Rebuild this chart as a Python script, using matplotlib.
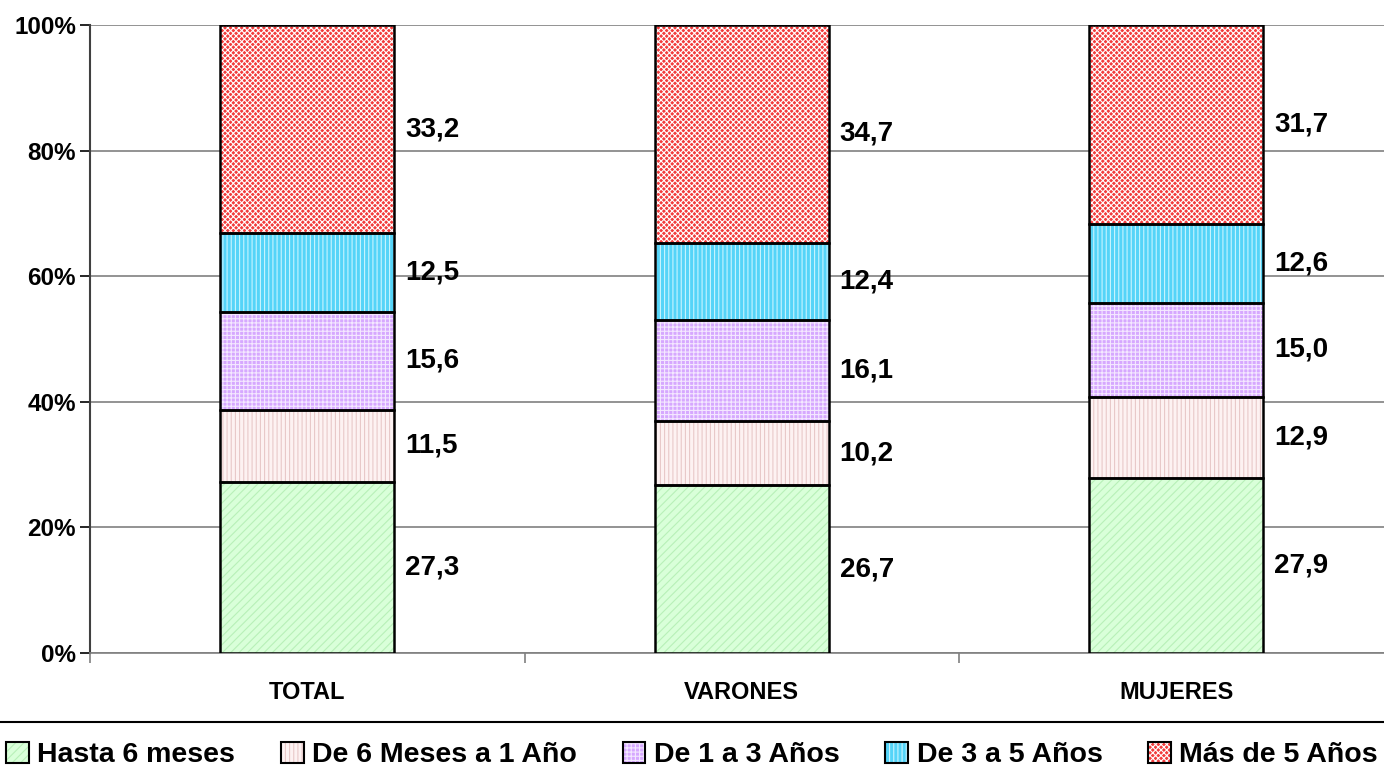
import matplotlib.pyplot as plt
from matplotlib.patches import Patch
from matplotlib.lines import Line2D

plt.rcParams['font.family'] = ['Liberation Sans', 'DejaVu Sans']
plt.rcParams['hatch.linewidth'] = 0.8

categories = ['TOTAL', 'VARONES', 'MUJERES']
series = ['Hasta 6 meses', 'De 6 Meses a 1 Año', 'De 1 a 3 Años',
          'De 3 a 5 Años', 'Más de 5 Años']
values = [
    [27.3, 26.7, 27.9],
    [11.5, 10.2, 12.9],
    [15.6, 16.1, 15.0],
    [12.5, 12.4, 12.6],
    [33.2, 34.7, 31.7],
]
labels = [
    ['27,3', '26,7', '27,9'],
    ['11,5', '10,2', '12,9'],
    ['15,6', '16,1', '15,0'],
    ['12,5', '12,4', '12,6'],
    ['33,2', '34,7', '31,7'],
]
yticks = [0, 20, 40, 60, 80, 100]
ytick_labels = ['0%', '20%', '40%', '60%', '80%', '100%']

faces = ['#d9ffd9', '#fdf2f2', '#d6a8ff', '#55d4f8', '#f23c3c']
hatch_cols = ['#b8f0b8', '#e8c8c8', '#f4e8ff', '#c8f4ff', '#ffffff']
hatches = ['////', '||||', '++++', '||||', 'xxxxxx']

fig = plt.figure(figsize=(13.84, 7.84), dpi=100)
W, H = 1384, 784
ax = fig.add_axes([90 / W, 1 - 653 / H, (W - 90) / W, (653 - 25) / H])

# normalise to 100% as the original does
totals = [sum(v[i] for v in values) for i in range(len(categories))]
x = list(range(len(categories)))
width = 0.4
bottoms = [0.0] * len(categories)
handles = []
for s, vals in enumerate(values):
    pct = [vals[i] / totals[i] * 100 for i in x]
    ax.bar(x, pct, width, bottom=bottoms, color=faces[s],
           edgecolor=hatch_cols[s], hatch=hatches[s], linewidth=0, zorder=3)
    ax.bar(x, pct, width, bottom=bottoms, fill=False,
           edgecolor='black', linewidth=1.8, zorder=4)
    for i in x:
        ax.text(i + width / 2 + 0.025, bottoms[i] + pct[i] / 2, labels[s][i],
                ha='left', va='center', fontsize=20, fontweight='bold', zorder=5)
    handles.append((Patch(facecolor=faces[s], edgecolor=hatch_cols[s],
                          hatch=hatches[s], linewidth=0),
                    Patch(facecolor='none', edgecolor='black', linewidth=1.5)))
    bottoms = [bottoms[i] + pct[i] for i in x]

ax.set_ylim(0, 100)
ax.set_xlim(-0.5, -0.5 + (W - 90) / 434.5)
ax.set_yticks(yticks)
ax.set_yticklabels(ytick_labels, fontsize=17.5, fontweight='bold')
ax.yaxis.grid(True, color='#808080', linewidth=1.2, zorder=0)
ax.set_axisbelow(True)

ax.set_xticks(x)
ax.set_xticklabels(categories, fontsize=17, fontweight='bold')
ax.tick_params(axis='x', length=0, pad=20)
ax.set_xticks([-0.5, 0.5, 1.5], minor=True)
ax.tick_params(axis='x', which='minor', length=7, color='#808080', width=1.2)
ax.tick_params(axis='y', length=7, width=1.2, color='black', pad=3)

for side in ['top', 'right']:
    ax.spines[side].set_visible(False)
ax.spines['left'].set_color('#404040')
ax.spines['left'].set_linewidth(1.5)
ax.spines['bottom'].set_color('#808080')
ax.spines['bottom'].set_linewidth(1.2)

# separator above the legend
fig.add_artist(Line2D([0, 1], [1 - 722 / H, 1 - 722 / H], color='black', linewidth=1.5))

fig.legend(handles, series, loc='center', bbox_to_anchor=(0.5, 1 - 755 / H),
           ncol=5, frameon=False, prop={'size': 20.5, 'weight': 'bold'},
           handlelength=0.8, handleheight=0.8, handletextpad=0.3,
           columnspacing=1.6, borderaxespad=0)

fig.savefig('out.png', dpi=100)
